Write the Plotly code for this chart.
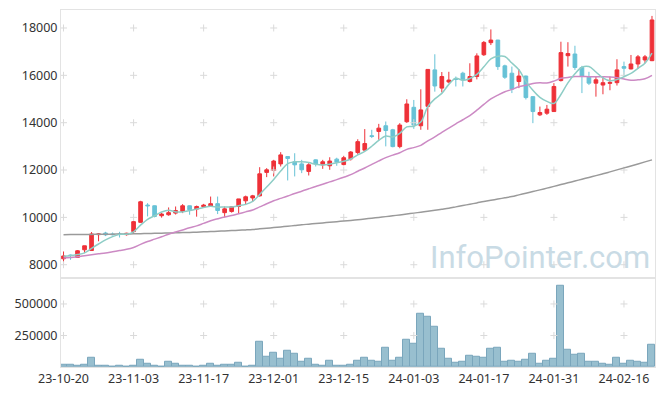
import plotly.graph_objects as go
from plotly.subplots import make_subplots

dates = ["23-10-20","23-10-23","23-10-24","23-10-25","23-10-26","23-10-27","23-10-30","23-10-31",
         "23-11-01","23-11-02","23-11-03","23-11-06","23-11-07","23-11-08","23-11-09","23-11-10",
         "23-11-13","23-11-14","23-11-15","23-11-16","23-11-17","23-11-20","23-11-21","23-11-22",
         "23-11-23","23-11-24","23-11-27","23-11-28","23-11-29","23-11-30","23-12-01","23-12-04",
         "23-12-05","23-12-06","23-12-07","23-12-08","23-12-11","23-12-12","23-12-13","23-12-14",
         "23-12-15","23-12-18","23-12-19","23-12-20","23-12-21","23-12-22","23-12-26","23-12-27",
         "23-12-28","24-01-02","24-01-03","24-01-04","24-01-05","24-01-08","24-01-09","24-01-10",
         "24-01-11","24-01-12","24-01-15","24-01-16","24-01-17","24-01-18","24-01-19","24-01-22",
         "24-01-23","24-01-24","24-01-25","24-01-26","24-01-29","24-01-30","24-01-31","24-02-01",
         "24-02-02","24-02-05","24-02-06","24-02-07","24-02-08","24-02-13","24-02-14","24-02-15",
         "24-02-16","24-02-19","24-02-20","24-02-21","24-02-22"]

open_ = [8250,8410,8310,8630,8600,9270,9340,9300,9300,9270,9400,9790,10520,10490,10070,10110,
         10180,10250,10490,10350,10450,10460,10580,10200,10250,10460,10700,10820,10910,11900,
         11980,12260,12570,12350,12260,11940,12430,12220,12180,12460,12230,12470,12740,12840,
         13450,13630,13870,13700,12990,14040,14650,13870,14690,16230,15460,15720,15870,16090,
         15740,15950,16870,17380,17490,16400,16090,15740,15970,15100,14330,14400,14470,15780,
         16830,16900,16330,15920,15670,15590,15660,15690,16370,16270,16480,16650,16620]
high = [8560,8430,8620,8800,9380,9340,9390,9360,9390,9350,9860,10700,10600,10500,10190,10420,
        10460,10560,10500,10500,10570,10880,10880,10460,10480,10780,10920,10950,12120,12080,
        12430,12755,12570,12710,12430,12290,12450,12430,12540,12520,12600,12800,13300,13730,
        13700,13950,14050,13740,13980,14990,14960,15410,16260,16890,16140,16150,15950,16150,
        16510,16930,17450,17940,17500,16450,16370,16260,15990,15120,14680,14750,15670,17420,
        17400,17250,16400,16150,15950,15950,15950,16680,16580,16860,16860,16860,18510]
low = [8000,8210,8300,8490,8600,8990,9210,9240,9150,9230,9340,9780,10040,10000,9990,10070,
       10120,10180,10110,10030,10410,10440,10140,10000,10200,10180,10520,10650,10880,11700,
       11730,12150,11560,11730,11870,11770,12150,12050,12010,12180,12200,12400,12650,13000,
       13350,13280,13000,12960,12920,13990,13740,13700,13700,15310,15280,15660,15530,15530,
       15700,15830,16820,17280,16230,15850,15250,15460,14980,13980,14280,14330,14470,15740,
       16370,16230,15250,15590,15100,15200,15370,15570,15950,16250,16270,16510,16600]
close = [8370,8390,8590,8800,9300,9300,9260,9270,9280,9330,9820,10660,10490,10040,10140,10200,
         10290,10490,10320,10460,10520,10580,10290,10360,10450,10780,10870,10910,11840,12010,
         12380,12640,12490,12220,12010,12220,12260,12350,12380,12330,12520,12760,13200,13120,
         13420,13770,13670,12990,13900,14790,13900,14540,16250,15550,15950,15800,15830,15810,
         15950,16820,17390,17490,16370,15920,15420,15970,15060,14470,14430,14570,15530,16960,
         16920,16330,15970,15670,15810,15690,15700,16230,16300,16480,16780,16780,18340]
volume = [21000,21000,13000,21000,77000,13000,13000,3000,13000,5000,13000,61000,29000,13000,5000,
          45000,29000,13000,13000,5000,13000,29000,13000,21000,21000,37000,5000,13000,197000,
          85000,117000,69000,125000,109000,45000,69000,21000,13000,53000,13000,13000,21000,53000,
          77000,53000,45000,149000,53000,77000,220000,188000,419000,395000,321000,141000,69000,
          37000,45000,93000,85000,77000,141000,149000,45000,53000,45000,61000,109000,29000,53000,
          69000,642000,133000,101000,109000,45000,45000,29000,21000,77000,29000,53000,45000,37000,
          173000]
ma5 = [8360,8380,8430,8500,8690,8876,9050,9186,9282,9288,9392,9672,9916,10068,10230,10306,
       10232,10232,10288,10352,10416,10474,10434,10442,10440,10492,10550,10674,10970,11282,
       11602,11956,12272,12348,12348,12316,12240,12212,12244,12308,12368,12468,12638,12786,
       13004,13254,13436,13394,13550,13824,13850,14024,14676,15006,15238,15618,15876,15788,
       15868,16042,16360,16692,16804,16798,16518,16234,15748,15368,15070,14900,14812,15192,
       15682,16062,16342,16370,16140,15894,15768,15820,15946,16080,16298,16514,16936]
ma20 = [8280,8310,8340,8380,8420,8460,8500,8550,8600,8650,8730,8860,8980,9080,9180,9290,
        9380,9470,9560,9640,9748,9857,9942,10020,10078,10152,10232,10314,10442,10576,10704,
        10803,10903,11012,11106,11207,11305,11398,11501,11595,11695,11804,11949,12087,12236,
        12385,12525,12629,12732,12871,12947,13042,13230,13397,13594,13773,13951,14124,14303,
        14527,14771,15007,15166,15306,15406,15516,15585,15659,15686,15675,15756,15877,15911,
        15950,15951,15944,15943,15937,15925,15895,15841,15790,15811,15854,16000]
ma_long = [9270,9272,9275,9278,9281,9284,9288,9292,9296,9300,9305,9311,9318,9325,9332,9340,
           9348,9357,9366,9376,9388,9400,9413,9427,9441,9456,9472,9490,9515,9542,9570,9598,
           9626,9656,9688,9714,9740,9766,9792,9818,9846,9872,9900,9932,9965,9998,10032,10068,
           10104,10142,10180,10220,10262,10304,10346,10390,10444,10500,10556,10612,10670,10722,
           10774,10826,10880,10950,11020,11090,11162,11235,11310,11385,11460,11536,11612,11688,
           11764,11840,11922,12006,12090,12174,12258,12344,12430]

price_ticks = [8000, 10000, 12000, 14000, 16000, 18000]
volume_ticks = [250000, 500000]
tick_dates = dates[::10]

RED = "#ee3138"
TEAL = "#67c2d6"

fig = make_subplots(rows=2, cols=1, shared_xaxes=True, vertical_spacing=0,
                    row_heights=[0.75, 0.25])

# grid crosses at tick intersections
cx, cy = [], []
for d in tick_dates:
    for p in price_ticks:
        cx.append(d); cy.append(p)
fig.add_trace(go.Scatter(x=cx, y=cy, mode="markers", hoverinfo="skip",
                         marker=dict(symbol="cross-thin", size=5,
                                     line=dict(color="#dadada", width=1))), row=1, col=1)
vx, vy = [], []
for d in tick_dates:
    for v in volume_ticks:
        vx.append(d); vy.append(v)
fig.add_trace(go.Scatter(x=vx, y=vy, mode="markers", hoverinfo="skip",
                         marker=dict(symbol="cross-thin", size=5,
                                     line=dict(color="#dadada", width=1))), row=2, col=1)

fig.add_trace(go.Scatter(x=dates, y=ma_long, mode="lines",
                         line=dict(color="#9a9a9a", width=1.5, shape="spline")), row=1, col=1)
fig.add_trace(go.Scatter(x=dates, y=ma20, mode="lines",
                         line=dict(color="#cc8ac4", width=1.5, shape="spline")), row=1, col=1)
fig.add_trace(go.Scatter(x=dates, y=ma5, mode="lines",
                         line=dict(color="#8ecdc6", width=1.5, shape="spline")), row=1, col=1)

fig.add_trace(go.Candlestick(x=dates, open=open_, high=high, low=low, close=close,
                             whiskerwidth=0,
                             increasing=dict(line=dict(color=RED, width=1), fillcolor=RED),
                             decreasing=dict(line=dict(color=TEAL, width=1), fillcolor=TEAL)),
              row=1, col=1)

fig.add_trace(go.Bar(x=dates, y=volume,
                     marker=dict(color="#98bfcf", line=dict(color="#7aa6bc", width=1))),
              row=2, col=1)

axis_common = dict(showline=True, linecolor="#e3e3e3", linewidth=1, mirror=True,
                   showgrid=False, zeroline=False, ticks="", automargin=False,
                   tickfont=dict(family="Noto Sans", size=12.5, color="#333333"))

fig.update_xaxes(type="category", categoryorder="array", categoryarray=dates,
                 range=[-0.36, 84.43], tickvals=tick_dates,
                 ticktext=tick_dates, tickangle=0, rangeslider=dict(visible=False),
                 **axis_common)
fig.update_xaxes(showticklabels=False, row=1, col=1)
fig.update_yaxes(range=[7450, 18760], tickvals=price_ticks, tickformat="d",
                 row=1, col=1, **axis_common)
fig.update_yaxes(range=[0, 708000], tickvals=volume_ticks, tickformat="d",
                 row=2, col=1, **axis_common)

fig.add_annotation(text="InfoPointer.com", xref="paper", yref="paper",
                   x=0.807, y=0.308, xanchor="center", yanchor="middle", showarrow=False,
                   font=dict(family="Roboto", size=31, color="#c9dbe5"))

# the page body adds an 8px offset, so the figure is sized to fit the 665x396 window
fig.update_layout(width=657, height=388, margin=dict(l=53, r=10, t=2, b=29),
                  paper_bgcolor="white", plot_bgcolor="white", showlegend=False,
                  bargap=0, boxgap=0.25, hovermode=False)

fig.write_html("out.html")
